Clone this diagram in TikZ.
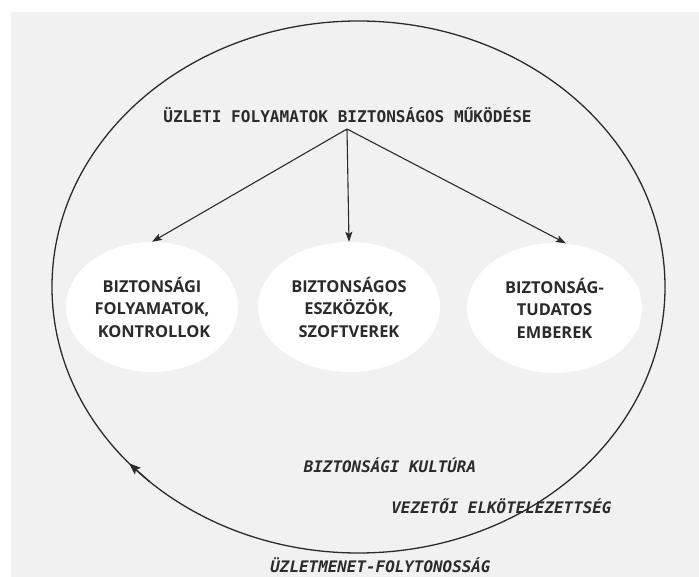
\documentclass[tikz,border=0pt]{standalone}
\usepackage{fontspec}
\setmainfont{Open Sans}
\newfontfamily\monofam{DejaVu Sans Mono}
\usetikzlibrary{shapes.geometric, arrows.meta, calc}

\definecolor{bg}{HTML}{F1F1F1}
\definecolor{ink}{HTML}{2B2B2B}

\begin{document}
\begin{tikzpicture}[x=1pt, y=-1pt,
  pillar/.style={ellipse, fill=white, inner sep=0pt, minimum width=#1,
    minimum height=130pt, align=center, text=ink,
    font=\fontsize{16.4}{22.5}\selectfont\bfseries},
  headline/.style={anchor=base, text=ink, inner sep=0pt,
    font=\monofam\fontsize{16.1}{18}\selectfont\bfseries},
  layer/.style={anchor=base, text=ink, inner sep=0pt,
    font=\monofam\fontsize{15.9}{18}\selectfont\bfseries\itshape},
  conn/.style={draw=ink, line width=1.1pt,
    -{Stealth[length=10pt, width=7pt, inset=2pt]}},
  ring/.style={draw=ink, line width=1.3pt}]

  % canvas
  \fill[white] (0,0) rectangle (699,577);
  \fill[bg] (11,12) rectangle (699,577);
  \useasboundingbox (0,0) rectangle (699,577);

  % goal at the top
  \node[headline] (title) at (347.5,123) {ÜZLETI FOLYAMATOK BIZTONSÁGOS MŰKÖDÉSE};
  \coordinate (hub) at (347,129);

  % the three pillars
  \node[pillar=172pt] (pL) at (152,307) {BIZTONSÁGI\\FOLYAMATOK,\\\hspace*{4pt}KONTROLLOK};
  \node[pillar=182pt] (pM) at (349,307) {BIZTONSÁGOS\\ESZKÖZÖK,\\SZOFTVEREK};
  \node[pillar=175pt] (pR) at (554.5,308) {BIZTONSÁG-\\TUDATOS\\EMBEREK};

  \draw[conn] (hub) -- (pL.north);
  \draw[conn] (hub) -- (pM.north);
  \draw[conn] (hub) -- (pR.80);

  % foundation layers
  \node[layer] (culture) at (390,472) {BIZTONSÁGI KULTÚRA};
  \node[layer] (commit) at (501.5,513) {VEZETŐI ELKÖTELEZETTSÉG};
  \node[layer] (contin) at (380.5,572) {ÜZLETMENET-FOLYTONOSSÁG};

  % enclosing cycle with its direction mark
  \node[ring, ellipse, inner sep=0pt, minimum width=613pt, minimum height=532pt]
    (cycle) at (358.5,287) {};
  \coordinate (tailpt) at ($(cycle.center)+(133:306.5 and 266)$);
  \coordinate (headpt) at ($(cycle.center)+(138.5:306.5 and 266)$);
  \draw[ring, -{Stealth[length=12pt, width=9pt, inset=2.5pt]}] (tailpt) -- (headpt);
\end{tikzpicture}
\end{document}
